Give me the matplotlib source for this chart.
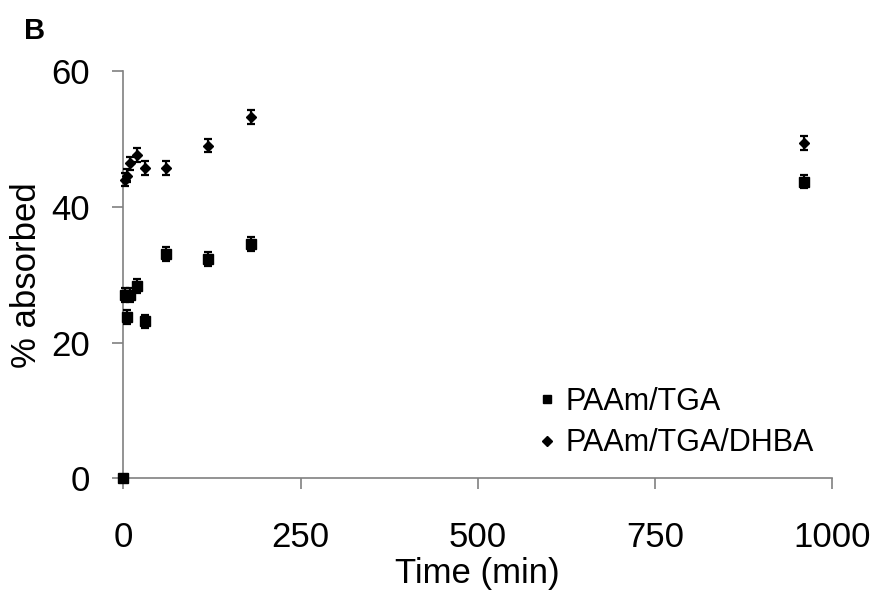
import matplotlib
matplotlib.use("Agg")
import matplotlib.pyplot as plt

plt.rcParams['font.family'] = ['Liberation Sans', 'DejaVu Sans']

# Data
time_sq = [0, 3, 5, 10, 20, 30, 60, 120, 180, 960]
paam_tga = [0.0, 27.0, 23.8, 27.0, 28.3, 23.1, 33.0, 32.3, 34.5, 43.7]
err_sq = [0.3, 1.0, 1.0, 1.0, 1.0, 1.0, 1.0, 1.0, 1.0, 1.0]

time_di = [0, 3, 5, 10, 20, 30, 60, 120, 180, 960]
paam_tga_dhba = [0.0, 44.0, 44.6, 46.4, 47.6, 45.7, 45.7, 49.0, 53.2, 49.4]
err_di = [0.3, 1.0, 1.0, 1.0, 1.0, 1.0, 1.0, 1.0, 1.0, 1.0]

x_ticks = [0, 250, 500, 750, 1000]
y_ticks = [0, 20, 40, 60]

fig = plt.figure(figsize=(8.83, 6.03), dpi=100)
ax = fig.add_axes([0.1396, 0.2068, 0.8030, 0.6755])

c1 = ax.errorbar(time_sq, paam_tga, yerr=err_sq, fmt='s', color='black', ms=7.5,
                 elinewidth=1.6, capsize=3, capthick=1.6, label='PAAm/TGA', zorder=3)
c2 = ax.errorbar(time_di, paam_tga_dhba, yerr=err_di, fmt='D', color='black', ms=5.5,
                 elinewidth=1.6, capsize=3, capthick=1.6, label='PAAm/TGA/DHBA', zorder=3)
for cont in (c1, c2):
    for art in cont.get_children():
        art.set_clip_on(False)

ax.set_xlim(0, 1000)
ax.set_ylim(0, 60)
ax.set_xticks(x_ticks)
ax.set_yticks(y_ticks)
ax.set_xticklabels([str(v) for v in x_ticks])
ax.set_yticklabels([str(v) for v in y_ticks])

for s in ['top', 'right']:
    ax.spines[s].set_visible(False)
for s in ['left', 'bottom']:
    ax.spines[s].set_color('#808080')
    ax.spines[s].set_linewidth(1.2)
ax.tick_params(axis='both', direction='out', length=8, width=1.2, color='#808080',
               labelsize=25, labelcolor='black')
ax.tick_params(axis='x', pad=23)
ax.tick_params(axis='y', pad=16)

ax.set_xlabel('Time (min)', fontsize=25, labelpad=2)
ax.set_ylabel('% absorbed', fontsize=25, labelpad=6)

handles, labels = ax.get_legend_handles_labels()
handles = [h[0] for h in handles]
leg = ax.legend(handles, labels, loc='lower right', bbox_to_anchor=(1.0, 0.004),
                frameon=False, fontsize=22, handlelength=0.6, handletextpad=0.3,
                labelspacing=0.37, markerscale=0.85, borderaxespad=0.2)

fig.text(0.027, 0.935, 'B', fontsize=21, fontweight='bold')

fig.savefig('out.png', dpi=100)
